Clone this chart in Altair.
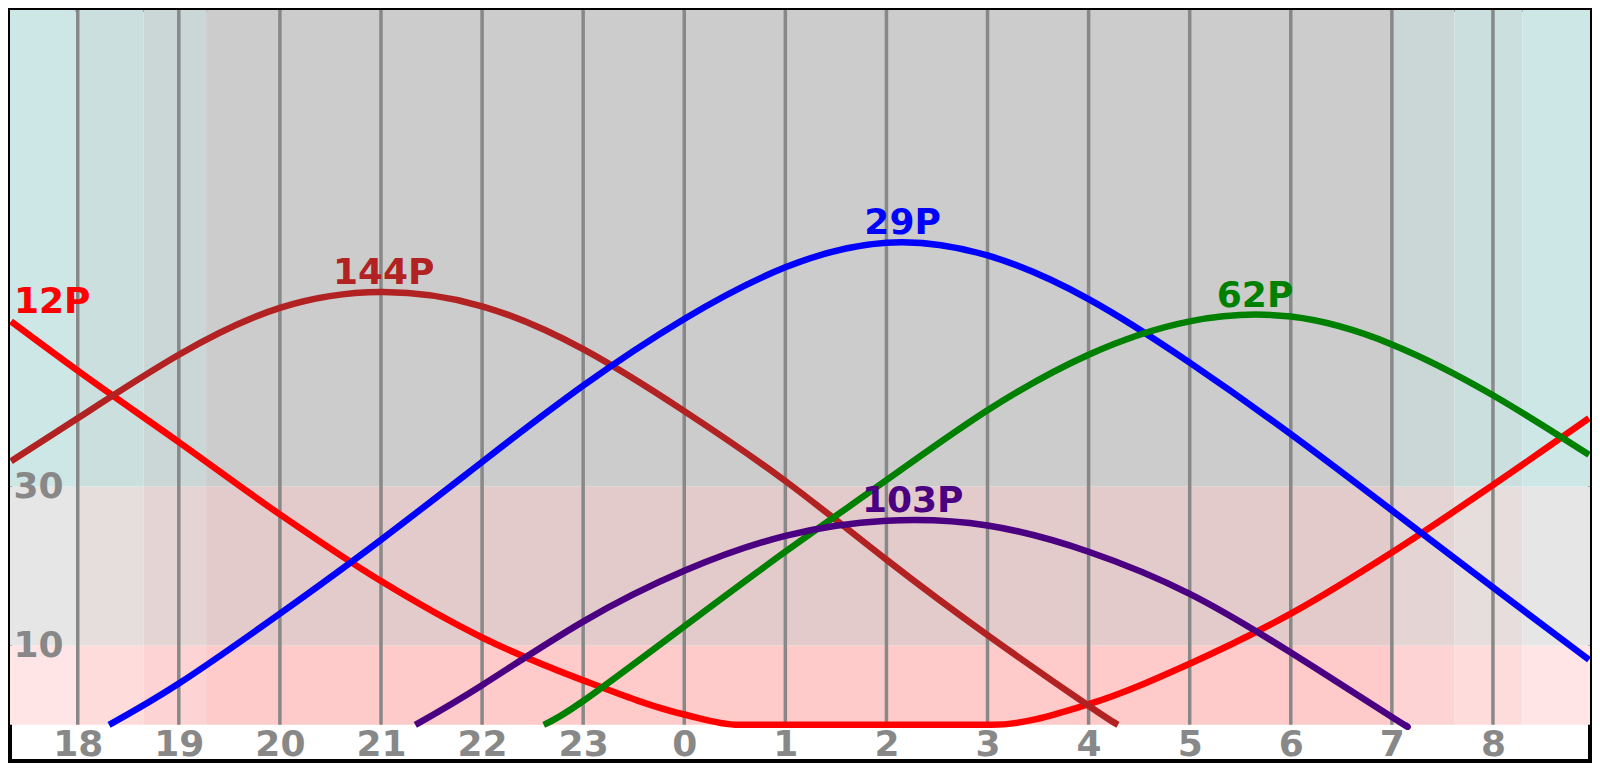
import altair as alt
import pandas as pd

# ---------------- data ----------------
names = ["12P", "144P", "29P", "62P", "103P"]

h_12P = [-6.66, -6.0, -5.0, -4.0, -3.0, -2.0, -1.0, 0.0, 0.54, 1.0, 2.0, 3.04, 4.0, 5.0, 6.0, 7.0, 8.0, 8.95]
alt_12P = [50.8, 44.6, 35.6, 26.5, 18.1, 11.0, 5.6, 1.3, 0.0, 0.0, 0.0, 0.0, 2.6, 7.7, 14.0, 21.7, 30.2, 38.6]

h_144P = [-6.66, -6.0, -5.0, -4.0, -3.0, -2.0, -1.0, 0.0, 1.0, 2.0, 3.0, 4.0, 4.29]
alt_144P = [33.2, 38.6, 46.6, 52.5, 54.5, 52.7, 47.3, 39.5, 30.7, 20.8, 11.3, 2.4, 0.0]

h_29P = [-5.69, -5.0, -4.0, -3.0, -2.0, -1.0, 0.0, 1.0, 2.0, 3.0, 4.0, 5.0, 6.0, 7.0, 8.0, 8.95]
alt_29P = [0.0, 5.2, 14.0, 23.3, 33.1, 42.7, 51.1, 57.6, 60.7, 59.1, 53.6, 45.6, 36.6, 27.0, 17.3, 8.2]

h_62P = [-1.39, -1.0, 0.0, 1.0, 2.0, 3.0, 4.0, 5.0, 6.0, 7.0, 8.0, 8.95]
alt_62P = [0.0, 3.0, 12.4, 21.8, 30.8, 39.6, 46.6, 50.8, 51.4, 47.9, 41.5, 34.0]

h_103P = [-2.66, -2.0, -1.0, 0.0, 1.0, 2.0, 3.0, 4.0, 5.0, 6.0, 7.0, 7.13]
alt_103P = [0.0, 5.0, 13.0, 19.4, 23.8, 25.7, 25.1, 21.8, 16.5, 9.1, 1.0, 0.0]

# hour ticks (hours relative to midnight) and their labels
hour_vals = [-6, -5, -4, -3, -2, -1, 0, 1, 2, 3, 4, 5, 6, 7, 8]
hour_labels = ["18", "19", "20", "21", "22", "23", "0", "1", "2", "3", "4", "5", "6", "7", "8"]

# altitude reference values
alt_ticks = [10, 30]
alt_edges = [0, 10, 30, 90]
band_names = ["low", "mid", "high"]

# twilight segments (hours) and darkness level (0 = brightest, 3 = night)
tw_edges = [-6.67, -6.02, -5.35, -4.73, 7.0, 7.62, 8.29, 8.96]
tw_level = [0, 1, 2, 3, 2, 1, 0]

# ---------------- styles ----------------
line_colors = ["#ff0000", "#b22222", "#0000ff", "#008000", "#4b0082"]
band_colors = {
    "high": ["#cde6e6", "#cbdfdf", "#cbd6d6", "#cccccc"],
    "mid": ["#e6e6e6", "#e6dddd", "#e4d4d4", "#e3cbcb"],
    "low": ["#ffe5e5", "#ffdcdc", "#fed3d3", "#fecaca"],
}
FONT = "DejaVu Sans"
GRAY = "#888888"
FS = 36

# ---------------- tables ----------------
series = {
    "12P": (h_12P, alt_12P),
    "144P": (h_144P, alt_144P),
    "29P": (h_29P, alt_29P),
    "62P": (h_62P, alt_62P),
    "103P": (h_103P, alt_103P),
}
rows = []
for n in names:
    hs, al = series[n]
    for h, a in zip(hs, al):
        rows.append({"name": n, "h": h, "alt": a})
lines_df = pd.DataFrame(rows)


def peak_of(hs, al):
    """Highest sample; refined to the vertex of the parabola through its neighbours."""
    i = max(range(len(al)), key=lambda k: al[k])
    if i == 0 or i == len(al) - 1:
        return i, hs[i], al[i]
    x0, x1, x2 = hs[i - 1], hs[i], hs[i + 1]
    y0, y1, y2 = al[i - 1], al[i], al[i + 1]
    d0 = (y1 - y0) / (x1 - x0)
    d1 = (y2 - y1) / (x2 - x1)
    a = (d1 - d0) / (x2 - x0)
    if a >= 0:
        return i, x1, y1
    b = d0 - a * (x0 + x1)
    xv = -b / (2 * a)
    yv = y1 + d0 * (xv - x1) + a * (xv - x0) * (xv - x1)
    return i, xv, yv


lab_left, lab_center = [], []
for n in names:
    hs, al = series[n]
    i, hp, ap = peak_of(hs, al)
    rec = {"name": n, "h": hp, "alt": ap}
    (lab_left if i == 0 else lab_center).append(rec)
lab_left_df = pd.DataFrame(lab_left)
lab_center_df = pd.DataFrame(lab_center)

rect_rows, keys, key_colors = [], [], []
for bi, b in enumerate(band_names):
    for j, lv in enumerate(tw_level):
        k = f"{b}{lv}"
        rect_rows.append({"x": tw_edges[j], "x2": tw_edges[j + 1],
                          "y": alt_edges[bi], "y2": alt_edges[bi + 1], "key": k})
        if k not in keys:
            keys.append(k)
            key_colors.append(band_colors[b][lv])
rect_df = pd.DataFrame(rect_rows)

grid_df = pd.DataFrame({"h": hour_vals})

# ---------------- scales / axes ----------------
xs = alt.Scale(domain=[tw_edges[0], tw_edges[-1]], nice=False, zero=False)
ys = alt.Scale(domain=[-4.55, 90], nice=False, zero=False)

label_expr = "[" + ",".join(f"'{s}'" for s in hour_labels) + "][datum.value - (" + str(hour_vals[0]) + ")]"
x_axis = alt.Axis(values=hour_vals, labelExpr=label_expr, grid=False, ticks=False, domain=False,
                  labelFont=FONT, labelFontWeight="bold", labelFontSize=FS, labelColor=GRAY,
                  labelBaseline="alphabetic", labelAlign="center", labelPadding=-6,
                  labelFlush=False, labelOverlap=False, title=None, orient="bottom", zindex=2)
y_axis = alt.Axis(values=alt_ticks, grid=False, ticks=False, domain=False,
                  labelFont=FONT, labelFontWeight="bold", labelFontSize=FS, labelColor=GRAY,
                  labelBaseline="middle", labelAlign="left", labelPadding=-3,
                  labelOverlap=False, title=None, orient="left", zindex=2)


def X(f):
    return alt.X(f, type="quantitative", scale=xs, axis=x_axis)


def Y(f):
    return alt.Y(f, type="quantitative", scale=ys, axis=y_axis)


bg = alt.Chart(rect_df).mark_rect().encode(
    x=X("x"), x2="x2", y=Y("y"), y2="y2",
    color=alt.Color("key:N", scale=alt.Scale(domain=keys, range=key_colors), legend=None),
)

grid = alt.Chart(grid_df).mark_rule(color=GRAY, strokeWidth=3.5).encode(
    x=X("h"), y=alt.datum(alt_edges[0]), y2=alt.datum(alt_edges[-1]),
)

line_color = alt.Color("name:N", scale=alt.Scale(domain=names, range=line_colors), legend=None)

# the clipped (flat-bottomed) series keeps a monotone curve, the others a smooth spline
lines_mono = alt.Chart(lines_df).transform_filter(
    alt.FieldOneOfPredicate(field="name", oneOf=[names[0]])
).mark_line(strokeWidth=6.5, interpolate="monotone", clip=True).encode(
    x=X("h"), y=Y("alt"), color=line_color, detail="name:N",
)
lines_smooth = alt.Chart(lines_df).transform_filter(
    alt.FieldOneOfPredicate(field="name", oneOf=names[1:])
).mark_line(strokeWidth=6.5, interpolate="natural", clip=True).encode(
    x=X("h"), y=Y("alt"), color=line_color, detail="name:N",
)

txt_kw = dict(font=FONT, fontWeight="bold", fontSize=FS, baseline="alphabetic", dy=-8)
labels_c = alt.Chart(lab_center_df).mark_text(align="center", **txt_kw).encode(
    x=X("h"), y=Y("alt"), text="name:N", color=line_color,
)
labels_l = alt.Chart(lab_left_df).mark_text(align="left", dx=3, **txt_kw).encode(
    x=X("h"), y=Y("alt"), text="name:N", color=line_color,
)

chart = alt.layer(bg, grid, lines_mono, lines_smooth, labels_c, labels_l).resolve_scale(
    color="independent"
).properties(
    width=1580, height=751,
    padding={"left": 2, "top": 2, "right": 2, "bottom": 2},
    autosize=alt.AutoSizeParams(type="none"),
).configure_view(stroke="black", strokeWidth=4)

chart.save("out.html", embed_options={"renderer": "svg", "actions": False})
